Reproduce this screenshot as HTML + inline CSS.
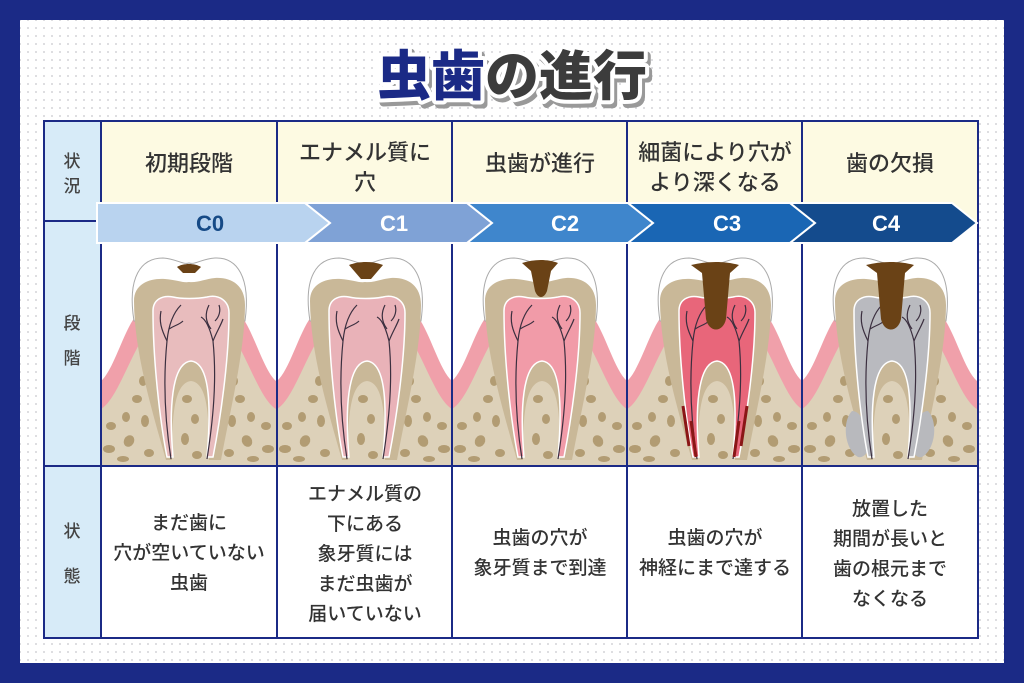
<!DOCTYPE html>
<html><head><meta charset="utf-8"><style>
html,body{margin:0;padding:0;width:1024px;height:683px;overflow:hidden;background:#1b2a86}
svg{display:block}
text{font-family:"Liberation Sans","Noto Sans CJK JP",sans-serif}
</style></head><body>
<svg width="1024" height="683" viewBox="0 0 1024 683" xmlns="http://www.w3.org/2000/svg">
<defs>
<pattern id="dots" width="8" height="8" patternUnits="userSpaceOnUse">
<rect width="8" height="8" fill="#fff"/><circle cx="4" cy="4" r="1" fill="#d4d4d8"/>
</pattern>
<g id="base">
<path d="M0,160 C12,150 22,112 34,96 L42,96 L42,245 L0,245 Z" fill="#f0a0aa"/>
<path d="M175,160 C163,150 153,112 141,96 L133,96 L133,245 L175,245 Z" fill="#f0a0aa"/>
<path d="M0,188 C14,180 26,144 40,120 L40,245 L0,245 Z" fill="#ddd1b9"/>
<path d="M175,188 C161,180 149,144 135,120 L135,245 L175,245 Z" fill="#ddd1b9"/>
<rect x="38" y="120" width="99" height="125" fill="#ddd1b9"/>
<g fill="#b29c73">
<ellipse cx="10" cy="205" rx="5" ry="4"/><ellipse cx="25" cy="196" rx="4" ry="5"/><ellipse cx="8" cy="228" rx="6" ry="4"/>
<ellipse cx="28" cy="220" rx="5" ry="6" transform="rotate(30 28 220)"/><ellipse cx="42" cy="160" rx="4" ry="5"/><ellipse cx="36" cy="178" rx="5" ry="4"/>
<ellipse cx="44" cy="200" rx="4" ry="6"/><ellipse cx="22" cy="238" rx="6" ry="3"/><ellipse cx="48" cy="232" rx="5" ry="4"/>
<ellipse cx="50" cy="142" rx="3" ry="4"/>
<ellipse cx="165" cy="205" rx="5" ry="4"/><ellipse cx="150" cy="196" rx="4" ry="5"/><ellipse cx="167" cy="228" rx="6" ry="4"/>
<ellipse cx="146" cy="220" rx="5" ry="6" transform="rotate(-30 146 220)"/><ellipse cx="133" cy="160" rx="4" ry="5"/><ellipse cx="139" cy="178" rx="5" ry="4"/>
<ellipse cx="131" cy="200" rx="4" ry="6"/><ellipse cx="152" cy="238" rx="6" ry="3"/><ellipse cx="128" cy="232" rx="5" ry="4"/>
<ellipse cx="125" cy="142" rx="3" ry="4"/>
<ellipse cx="86" cy="178" rx="5" ry="4"/><ellipse cx="94" cy="198" rx="4" ry="5"/><ellipse cx="84" cy="218" rx="4" ry="6"/><ellipse cx="96" cy="234" rx="5" ry="4"/>
</g>
<path d="M33,100 C26,56 40,37 62,37 C76,38 82,44 88,42 C94,44 100,38 114,37 C136,36 150,56 144,100 Z" fill="#fff" stroke="#aaa" stroke-width="1"/>
<path d="M33,80 C33,62 50,57 64,58 C76,59 82,62 88,61 C96,62 104,58 114,57 C130,56 144,64 144,84 C144,130 129,190 120,239 L108,239 C108,200 108,162 90,160 C72,162 71,200 71,239 L65,239 C51,190 33,130 33,80 Z" fill="#c9b898"/>
</g>
<g id="nerves" fill="none" stroke="#3b2f3f" stroke-width="1.2">
<path d="M70,238 C64,200 62,160 66,120 C68,100 74,90 80,84"/>
<path d="M66,120 C60,108 58,100 60,90"/><path d="M68,108 C74,104 78,104 82,100"/>
<path d="M106,238 C112,200 116,160 112,120 C108,104 104,98 100,96"/>
<path d="M112,120 C116,110 120,104 122,98"/><path d="M110,108 C104,100 104,92 108,84"/><path d="M114,100 C118,96 120,90 118,84"/>
</g>
<path id="pulp" d="M52,90 C52,78 62,74 72,76 C80,78 96,78 106,76 C118,73 128,80 128,92 C128,140 119,200 112,236 L106,236 C110,190 110,142 90,140 C70,142 68,190 72,236 L66,236 C59,200 52,140 52,90 Z" stroke="#fff" stroke-width="1.5"/>
</defs>
<rect x="20" y="20" width="984" height="643" fill="url(#dots)"/>
<text x="512" y="95" text-anchor="middle" font-size="54" font-weight="900" fill="#999" stroke="#999" stroke-width="8" stroke-linejoin="round" transform="translate(3,4)">虫歯の進行</text>
<text x="512" y="95" text-anchor="middle" font-size="54" font-weight="900" stroke="#fff" stroke-width="8" stroke-linejoin="round" paint-order="stroke"><tspan fill="#1b2a86">虫歯</tspan><tspan fill="#3c3c3c">の進行</tspan></text>
<rect x="44" y="121" width="57" height="517" fill="#d7ebf8"/>
<rect x="101" y="121" width="877" height="100" fill="#fdfae2"/>
<rect x="101" y="221" width="877" height="417" fill="#fff"/>
<g transform="translate(101,221)"><use href="#base"/><use href="#pulp" fill="#e8bcbd"/><use href="#nerves"/>
<path d="M76,46 C82,42 94,42 100,46 L94,52 L82,52 Z" fill="#6a4216"/></g>
<g transform="translate(277,221)"><use href="#base"/><use href="#pulp" fill="#e9b2b8"/><use href="#nerves"/>
<path d="M72,44 C82,40 96,40 106,44 L94,58 L84,58 Z" fill="#6a4216"/></g>
<g transform="translate(452,221)"><use href="#base"/><use href="#pulp" fill="#f19ba8"/><use href="#nerves"/>
<path d="M70,42 C82,38 96,38 106,42 L99,50 L95,70 C92,78 86,78 83,70 L79,50 Z" fill="#6a4216"/></g>
<g transform="translate(627,221)"><use href="#base"/><use href="#pulp" fill="#e8667a"/><use href="#nerves"/>
<path d="M62,225 L56,185 M69,236 L64,200 M114,225 L120,185 M107,236 L112,200" stroke="#8a1616" stroke-width="3" fill="none"/>
<path d="M64,44 C80,40 98,40 112,44 L103,52 L99,98 C96,112 82,112 79,98 L75,52 Z" fill="#6a4216"/></g>
<g transform="translate(802,221)"><use href="#base"/>
<path d="M50,190 C40,200 42,228 56,236 C64,238 70,226 66,212 C62,200 58,190 50,190 Z M126,190 C136,200 134,228 120,236 C112,238 106,226 110,212 C114,200 118,190 126,190 Z" fill="#b8b9bd"/>
<use href="#pulp" fill="#b9babf"/><use href="#nerves"/>
<path d="M64,44 C80,40 98,40 112,44 L103,52 L99,98 C96,112 82,112 79,98 L75,52 Z" fill="#6a4216"/></g>
<g stroke="#1b2a86" stroke-width="2" fill="none">
<rect x="44" y="121" width="934" height="517"/>
<line x1="101" y1="121" x2="101" y2="638"/>
<line x1="277" y1="121" x2="277" y2="638"/><line x1="452" y1="121" x2="452" y2="638"/>
<line x1="627" y1="121" x2="627" y2="638"/><line x1="802" y1="121" x2="802" y2="638"/>
<line x1="44" y1="221" x2="101" y2="221"/><line x1="44" y1="466" x2="978" y2="466"/>
</g>
<g stroke="#fff" stroke-width="2">
<polygon points="97,203 305,203 330,223 305,243 97,243" fill="#b9d3ef"/>
<polygon points="305,203 467,203 492,223 467,243 305,243 330,223" fill="#7fa2d6"/>
<polygon points="467,203 628,203 653,223 628,243 467,243 492,223" fill="#3f86cc"/>
<polygon points="628,203 790,203 815,223 790,243 628,243 653,223" fill="#1a66b4"/>
<polygon points="790,203 952,203 977,223 952,243 790,243 815,223" fill="#144b8d"/>
</g>
<g font-size="22" font-weight="700" text-anchor="middle">
<text x="210" y="231" fill="#164a86">C0</text>
<text x="394" y="231" fill="#fff">C1</text>
<text x="565" y="231" fill="#fff">C2</text>
<text x="727" y="231" fill="#fff">C3</text>
<text x="886" y="231" fill="#fff">C4</text>
</g>
<g font-size="17" font-weight="500" fill="#444" text-anchor="middle">
<text x="72" y="167">状</text><text x="72" y="192">況</text>
<text x="72" y="329">段</text><text x="72" y="364">階</text>
<text x="72" y="537">状</text><text x="72" y="582">態</text>
</g>
<g font-size="22" font-weight="500" fill="#333" text-anchor="middle">
<text x="189" y="171">初期段階</text>
<text x="365" y="160">エナメル質に</text><text x="365" y="190">穴</text>
<text x="540" y="171">虫歯が進行</text>
<text x="715" y="160">細菌により穴が</text><text x="715" y="190">より深くなる</text>
<text x="890" y="171">歯の欠損</text>
</g>
<g font-size="19" font-weight="500" fill="#333" text-anchor="middle">
<text x="189" y="529">まだ歯に</text><text x="189" y="559">穴が空いていない</text><text x="189" y="589">虫歯</text>
<text x="365" y="500">エナメル質の</text><text x="365" y="530">下にある</text><text x="365" y="560">象牙質には</text><text x="365" y="590">まだ虫歯が</text><text x="365" y="620">届いていない</text>
<text x="540" y="544">虫歯の穴が</text><text x="540" y="574">象牙質まで到達</text>
<text x="715" y="544">虫歯の穴が</text><text x="715" y="574">神経にまで達する</text>
<text x="890" y="515">放置した</text><text x="890" y="545">期間が長いと</text><text x="890" y="575">歯の根元まで</text><text x="890" y="605">なくなる</text>
</g>
</svg>
</body></html>
